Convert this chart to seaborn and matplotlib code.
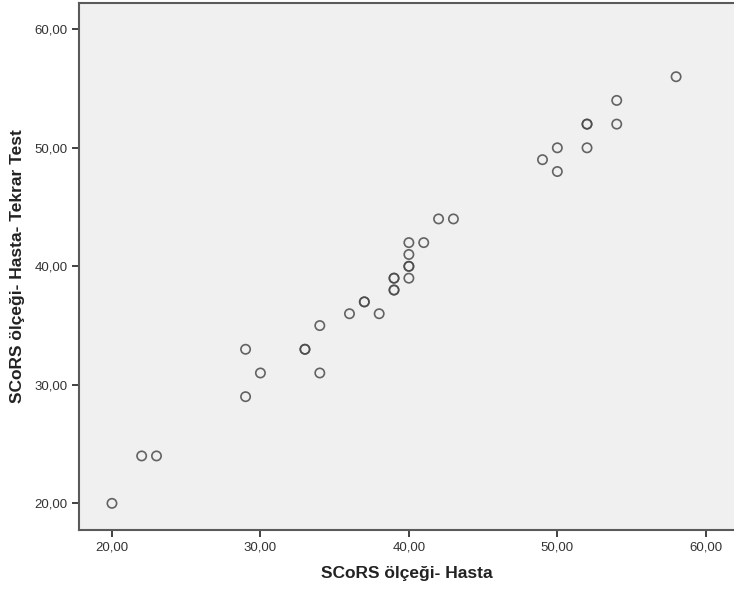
import matplotlib
matplotlib.use("Agg")
import matplotlib.pyplot as plt
import seaborn as sns
import pandas as pd

hasta = [20, 22, 23, 29, 29, 30, 33, 33, 34, 34, 36, 37, 37, 38, 39, 39, 39, 39,
         40, 40, 40, 40, 40, 41, 42, 43, 49, 50, 50, 52, 52, 52, 54, 54, 58]
tekrar = [20, 24, 24, 33, 29, 31, 33, 33, 35, 31, 36, 37, 37, 36, 39, 39, 38, 38,
          42, 41, 40, 40, 39, 42, 44, 44, 49, 50, 48, 52, 52, 50, 54, 52, 56]
ticks = [20, 30, 40, 50, 60]
tick_labels = ["20,00", "30,00", "40,00", "50,00", "60,00"]
xlabel = "SCoRS ölçeği- Hasta"
ylabel = "SCoRS ölçeği- Hasta- Tekrar Test"

df = pd.DataFrame({"x": hasta, "y": tekrar})

sns.set_style("white")
plt.rcParams["font.family"] = ["Liberation Sans", "DejaVu Sans"]

fig = plt.figure(figsize=(7.34, 5.96), dpi=100)
ax = fig.add_axes([79/734, 1-530/596, 1-79/734, (530-3)/596])
ax.set_facecolor("#f0f0f0")

sns.scatterplot(data=df, x="x", y="y", ax=ax, s=45, facecolor="none",
                edgecolor="#4a4a4a", linewidth=1.2, alpha=0.85, legend=False)

ax.set_xlim(17.78, 61.9)
ax.set_ylim(17.75, 62.22)
ax.set_xticks(ticks)
ax.set_xticklabels(tick_labels)
ax.set_yticks(ticks)
ax.set_yticklabels(tick_labels)
ax.tick_params(axis="both", direction="out", length=5, width=1.3, color="#333333",
               labelsize=9.5, labelcolor="#333333", pad=3)
ax.tick_params(left=True, bottom=True)

for side in ["left", "bottom", "top"]:
    ax.spines[side].set_visible(True)
    ax.spines[side].set_color("#5a5a5a")
    ax.spines[side].set_linewidth(1.5)
ax.spines["right"].set_visible(False)

ax.set_xlabel(xlabel, fontsize=12.5, fontweight="bold", color="#222222", labelpad=9)
ax.set_ylabel(ylabel, fontsize=12.5, fontweight="bold", color="#222222", labelpad=7)
ax.grid(False)

fig.savefig("out.png", dpi=100)
